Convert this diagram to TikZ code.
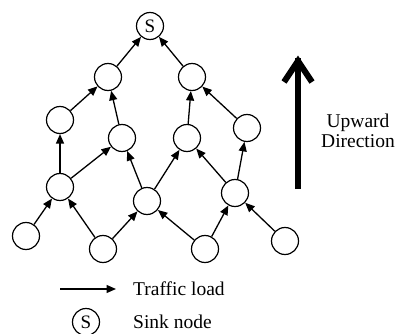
\documentclass[tikz,border=0pt]{standalone}
\usepackage{fontspec}
\setmainfont{Liberation Serif}
\usetikzlibrary{arrows.meta}
\begin{document}
\begin{tikzpicture}[x=1pt,y=-1pt,
  nd/.style={circle,draw,line width=1.2pt,minimum size=27pt,inner sep=0pt,font=\fontsize{19}{22}\selectfont},
  ed/.style={line width=1.3pt,-{Triangle[length=9.5pt,width=8pt]}},
  lbl/.style={font=\fontsize{19.5}{20.5}\selectfont,inner sep=0pt}]
\useasboundingbox (0,0) rectangle (396,334);
% nodes
\node[nd] (s) at (150,26) {S};
\node[nd] (a1) at (108,77) {};
\node[nd] (a2) at (192,77) {};
\node[nd] (b1) at (60,120) {};
\node[nd] (b2) at (122,138) {};
\node[nd] (b3) at (187,138) {};
\node[nd] (b4) at (247,128) {};
\node[nd] (c1) at (60,187) {};
\node[nd] (c2) at (147,201) {};
\node[nd] (c3) at (235,193) {};
\node[nd] (d1) at (26,236) {};
\node[nd] (d2) at (103,249) {};
\node[nd] (d3) at (205,249) {};
\node[nd] (d4) at (285,241) {};
% edges
\draw[ed] (d1) -- (c1);
\draw[ed] (d2) -- (c1);
\draw[ed] (d2) -- (c2);
\draw[ed] (d3) -- (c2);
\draw[ed] (d3) -- (c3);
\draw[ed] (d4) -- (c3);
\draw[ed] (c1) -- (b1);
\draw[ed] (c1) -- (b2);
\draw[ed] (c2) -- (b2);
\draw[ed] (c2) -- (b3);
\draw[ed] (c3) -- (b3);
\draw[ed] (c3) -- (b4);
\draw[ed] (b1) -- (a1);
\draw[ed] (b2) -- (a1);
\draw[ed] (b3) -- (a2);
\draw[ed] (b4) -- (a2);
\draw[ed] (a1) -- (s);
\draw[ed] (a2) -- (s);
% big upward arrow
\coordinate (ub) at (298,189);
\coordinate (ut) at (298,61);
\coordinate (ul) at (284,82);
\coordinate (ur) at (312,82);
\draw[line width=6.5pt] (ub) -- ([yshift=3pt]ut);
\draw[line width=6pt,miter limit=10] (ul) -- (ut) -- (ur);
\node[lbl,align=center] (up) at (358,131) {Upward\\Direction};
% legend
\coordinate (la) at (60,289);
\coordinate (lb) at (116,289);
\draw[ed] (la) -- (lb);
\node[lbl,anchor=west] (tl) at (133,289) {Traffic load};
\node[nd] (ls) at (86,322) {S};
\node[lbl,anchor=west] (sn) at (133,322) {Sink node};
\end{tikzpicture}
\end{document}
